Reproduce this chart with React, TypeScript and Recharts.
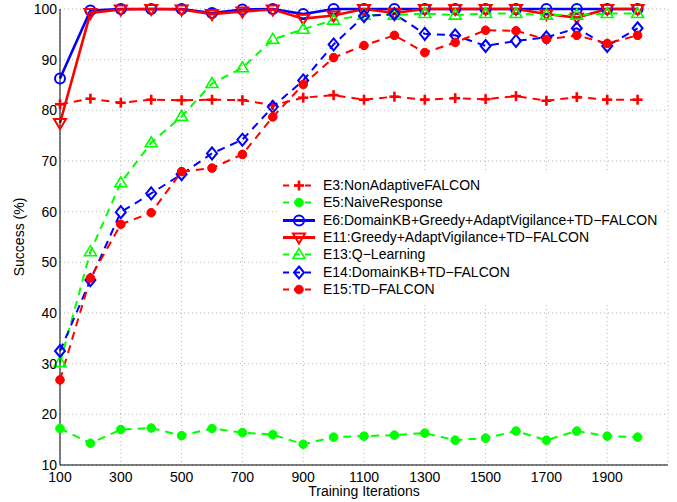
import React from 'react';
import { LineChart, Line, XAxis, YAxis, CartesianGrid, Legend } from 'recharts';

const iterations = [100, 200, 300, 400, 500, 600, 700, 800, 900, 1000, 1100, 1200, 1300, 1400, 1500, 1600, 1700, 1800, 1900, 2000];
const e3NonAdaptive = [81.2, 82.3, 81.5, 82.1, 82.0, 82.1, 82.0, 81.0, 82.5, 83.0, 82.1, 82.7, 82.1, 82.4, 82.2, 82.8, 81.9, 82.6, 82.1, 82.1];
const e5Naive = [17.2, 14.3, 17.0, 17.3, 15.8, 17.2, 16.4, 16.0, 14.1, 15.5, 15.7, 15.9, 16.3, 14.9, 15.3, 16.7, 14.9, 16.7, 15.7, 15.5];
const e6DomainKBGreedy = [86.3, 99.7, 100, 100, 100, 99.2, 99.9, 100, 99.0, 100, 100, 100, 100, 100, 100, 100, 100, 100, 100, 100];
const e11Greedy = [77.5, 99.2, 99.9, 100, 99.9, 99.0, 99.5, 99.9, 98.1, 98.7, 100, 99.2, 100, 100, 100, 100, 99.0, 98.3, 100, 100];
const e13QLearning = [30.2, 52.1, 65.7, 73.6, 78.8, 85.3, 88.4, 94.0, 96.0, 97.8, 98.8, 98.8, 99.1, 98.8, 99.1, 99.1, 98.8, 98.8, 99.1, 99.1];
const e14DomainKB = [32.5, 46.5, 59.9, 63.6, 67.4, 71.5, 74.2, 80.7, 85.9, 93.0, 98.6, 99.0, 95.1, 94.8, 92.7, 93.7, 94.4, 96.2, 92.7, 96.2];
const e15TDFalcon = [26.8, 46.9, 57.5, 59.8, 67.9, 68.6, 71.3, 78.7, 85.1, 90.4, 92.8, 94.8, 91.4, 93.4, 95.8, 95.7, 94.0, 94.8, 93.2, 94.8];

const xTicks = [100, 300, 500, 700, 900, 1100, 1300, 1500, 1700, 1900];
const yTicks = [10, 20, 30, 40, 50, 60, 70, 80, 90, 100];

const data = iterations.map((it, i) => ({
  it,
  e3: e3NonAdaptive[i],
  e5: e5Naive[i],
  e6: e6DomainKBGreedy[i],
  e11: e11Greedy[i],
  e13: e13QLearning[i],
  e14: e14DomainKB[i],
  e15: e15TDFalcon[i],
}));

const RED = '#ff0000';
const GREEN = '#00ff00';
const BLUE = '#0000ff';
const FONT = '"Liberation Sans", Arial, Helvetica, sans-serif';

type Shape = 'plus' | 'dot' | 'circle' | 'triDown' | 'triUp' | 'diamond';

const series: { key: string; name: string; color: string; dashed: boolean; shape: Shape }[] = [
  { key: 'e3', name: 'E3:NonAdaptiveFALCON', color: RED, dashed: true, shape: 'plus' },
  { key: 'e5', name: 'E5:NaiveResponse', color: GREEN, dashed: true, shape: 'dot' },
  { key: 'e6', name: 'E6:DomainKB+Greedy+AdaptVigilance+TD\u2212FALCON', color: BLUE, dashed: false, shape: 'circle' },
  { key: 'e11', name: 'E11:Greedy+AdaptVigilance+TD\u2212FALCON', color: RED, dashed: false, shape: 'triDown' },
  { key: 'e13', name: 'E13:Q\u2212Learning', color: GREEN, dashed: true, shape: 'triUp' },
  { key: 'e14', name: 'E14:DomainKB+TD\u2212FALCON', color: BLUE, dashed: true, shape: 'diamond' },
  { key: 'e15', name: 'E15:TD\u2212FALCON', color: RED, dashed: true, shape: 'dot' },
];

function Marker({ shape, x, y, color }: { shape: Shape; x: number; y: number; color: string }) {
  switch (shape) {
    case 'plus':
      return (
        <g stroke={color} strokeWidth={2.6}>
          <line x1={x - 5} y1={y} x2={x + 5} y2={y} />
          <line x1={x} y1={y - 5} x2={x} y2={y + 5} />
        </g>
      );
    case 'dot':
      return <circle cx={x} cy={y} r={4.3} fill={color} stroke={color} strokeWidth={1} />;
    case 'circle':
      return <circle cx={x} cy={y} r={5} fill="none" stroke={color} strokeWidth={2} />;
    case 'triDown':
      return (
        <polygon
          points={`${x - 6},${y - 4} ${x + 6},${y - 4} ${x},${y + 6}`}
          fill="none"
          stroke={color}
          strokeWidth={2}
        />
      );
    case 'triUp':
      return (
        <polygon
          points={`${x - 6},${y + 4} ${x + 6},${y + 4} ${x},${y - 6}`}
          fill="none"
          stroke={color}
          strokeWidth={1.6}
        />
      );
    case 'diamond':
      return (
        <polygon
          points={`${x},${y - 6} ${x + 5},${y} ${x},${y + 6} ${x - 5},${y}`}
          fill="none"
          stroke={color}
          strokeWidth={2}
        />
      );
  }
  return null;
}

function makeDot(shape: Shape, color: string, key: string) {
  return (props: any) => {
    const { cx, cy, index } = props;
    if (cx == null || cy == null) return <g key={`${key}-${index}`} />;
    return (
      <g key={`${key}-${index}`}>
        <Marker shape={shape} x={cx} y={cy} color={color} />
      </g>
    );
  };
}

function LegendContent() {
  return (
    <div style={{ background: '#fff', padding: '4px 4px 4px 0', fontFamily: FONT, fontSize: 14, color: '#000' }}>
      {series.map((s) => (
        <div key={s.key} style={{ display: 'flex', alignItems: 'center', height: 17.33, whiteSpace: 'nowrap' }}>
          <svg width={45} height={17} style={{ display: 'block', flex: 'none' }}>
            <line
              x1={5}
              y1={8.5}
              x2={37}
              y2={8.5}
              stroke={s.color}
              strokeWidth={s.dashed ? 2 : 3}
              strokeDasharray={s.dashed ? '6 5' : undefined}
            />
            <Marker shape={s.shape} x={21} y={8.5} color={s.color} />
          </svg>
          <span style={{ lineHeight: '17px' }}>{s.name}</span>
        </div>
      ))}
    </div>
  );
}

export default function App() {
  return (
    <div style={{ position: 'absolute', left: 0, top: 0, width: 677, height: 502, background: '#fff' }}>
      <LineChart width={677} height={502} data={data} margin={{ top: 9, right: 9, bottom: 7, left: 10 }}>
        <CartesianGrid xAxisId="main" yAxisId="main" stroke="#b4b4b4" strokeDasharray="1 3" strokeWidth={1} />
        <XAxis
          xAxisId="main"
          dataKey="it"
          type="number"
          domain={[100, 2100]}
          ticks={xTicks}
          interval={0}
          height={30}
          tickSize={0}
          tickMargin={7}
          tickLine={false}
          axisLine={{ stroke: '#000', strokeWidth: 1 }}
          tick={{ fill: '#000', fontSize: 14, fontFamily: FONT }}
          label={{
            content: ({ viewBox }: any) => (
              <text x={viewBox.x + viewBox.width / 2} y={viewBox.y + 31} textAnchor="middle" fontSize={14} fontFamily={FONT} fill="#000">
                Training Iterations
              </text>
            ),
          }}
        />
        <XAxis
          xAxisId="bottomIn"
          type="number"
          orientation="bottom"
          mirror
          domain={[100, 2100]}
          ticks={xTicks}
          interval={0}
          height={0}
          tickSize={6}
          tick={false}
          axisLine={false}
          tickLine={{ stroke: '#000' }}
        />
        <XAxis
          xAxisId="top"
          type="number"
          orientation="top"
          mirror
          domain={[100, 2100]}
          ticks={xTicks}
          interval={0}
          height={0}
          tickSize={6}
          tick={false}
          axisLine={{ stroke: '#000' }}
          tickLine={{ stroke: '#000' }}
        />
        <YAxis
          yAxisId="main"
          type="number"
          domain={[10, 100]}
          ticks={yTicks}
          interval={0}
          width={50}
          tickSize={0}
          tickMargin={3}
          tickLine={false}
          axisLine={{ stroke: '#000', strokeWidth: 1 }}
          tick={{ fill: '#000', fontSize: 14, fontFamily: FONT }}
          label={{
            content: ({ viewBox }: any) => {
              const cx = 19;
              const cy = viewBox.y + viewBox.height / 2;
              return (
                <text x={cx} y={cy} transform={`rotate(-90, ${cx}, ${cy})`} textAnchor="middle" dominantBaseline="central" fontSize={14} fontFamily={FONT} fill="#000">
                  Success (%)
                </text>
              );
            },
          }}
        />
        <YAxis
          yAxisId="leftIn"
          type="number"
          orientation="left"
          mirror
          domain={[10, 100]}
          ticks={yTicks}
          interval={0}
          width={0}
          tickSize={6}
          tick={false}
          axisLine={false}
          tickLine={{ stroke: '#000' }}
        />
        <YAxis
          yAxisId="right"
          type="number"
          orientation="right"
          mirror
          domain={[10, 100]}
          ticks={yTicks}
          interval={0}
          width={0}
          tickSize={6}
          tick={false}
          axisLine={{ stroke: '#000' }}
          tickLine={{ stroke: '#000' }}
        />
        {series.map((s) => (
          <Line
            key={s.key}
            xAxisId="main"
            yAxisId="main"
            type="linear"
            dataKey={s.key}
            name={s.name}
            stroke={s.color}
            strokeWidth={s.dashed ? 2 : 2.6}
            strokeDasharray={s.dashed ? '8 6' : undefined}
            dot={makeDot(s.shape, s.color, s.key)}
            activeDot={false}
            isAnimationActive={false}
          />
        ))}
        <Legend
          layout="vertical"
          align="center"
          verticalAlign="middle"
          content={() => <LegendContent />}
          wrapperStyle={{ position: 'absolute', left: 278, top: 173, width: 'auto' }}
        />
      </LineChart>
    </div>
  );
}
